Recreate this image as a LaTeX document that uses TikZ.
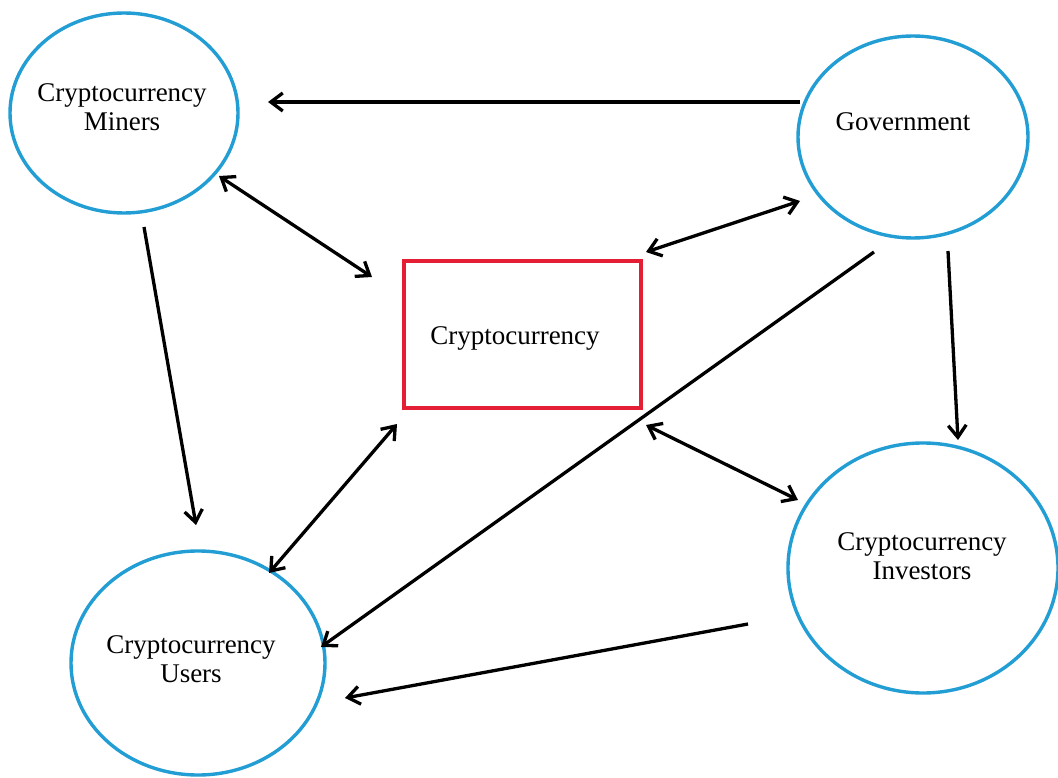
\documentclass[tikz,border=0pt]{standalone}
\usepackage{fontspec}
\setmainfont{Liberation Serif}
\usetikzlibrary{arrows.meta,shapes.geometric}
\definecolor{cblue}{RGB}{35,158,212}
\definecolor{cred}{RGB}{228,30,52}
\tikzset{
  actor/.style={ellipse,draw=cblue,line width=3.4pt,inner sep=0pt},
  core/.style={rectangle,draw=cred,line width=3.2pt,inner sep=0pt},
  lbl/.style={font=\fontsize{27}{29}\selectfont,align=center,inner sep=0pt},
  conn/.style={line width=3.3pt,black,arrows={-Straight Barb[length=12pt,width=18pt]}},
  bconn/.style={line width=3.3pt,black,arrows={Straight Barb[length=12pt,width=18pt]-Straight Barb[length=12pt,width=18pt]}}
}
\begin{document}
\begin{tikzpicture}[x=1pt,y=-1pt]
\useasboundingbox[fill=white] (0,0) rectangle (1058,778);
% nodes
\node[actor,minimum width=228pt,minimum height=200pt] (miners) at (124,113) {};
\node[actor,minimum width=230pt,minimum height=202pt] (gov) at (913,137) {};
\node[actor,minimum width=254pt,minimum height=224pt] (users) at (198,663) {};
\node[actor,minimum width=270pt,minimum height=250pt] (inv) at (923,568) {};
\node[core,minimum width=237pt,minimum height=147pt] (crypto) at (522.5,334.5) {};
% labels
\node[lbl] (minersT) at (122,107) {Cryptocurrency\\Miners};
\node[lbl] (govT) at (903,122) {Government};
\node[lbl] (usersT) at (191,659) {Cryptocurrency\\Users};
\node[lbl] (invT) at (922,556) {Cryptocurrency\\Investors};
\node[lbl] (cryptoT) at (515,338) {Cryptocurrency};
% connector end points
\coordinate (gM) at (800,102);  \coordinate (mG) at (268,102);
\coordinate (mC) at (219,176);  \coordinate (cM) at (372,277);
\coordinate (gC) at (800,201);  \coordinate (cG) at (646,252);
\coordinate (mU) at (144,227);  \coordinate (uM) at (196,525);
\coordinate (gI) at (948,251);  \coordinate (iG) at (958,440);
\coordinate (gU) at (874,252);  \coordinate (uG) at (321,647);
\coordinate (cU) at (397,424);  \coordinate (uC) at (269,573);
\coordinate (cI) at (646,425);  \coordinate (iC) at (798,500);
\coordinate (iU) at (748,624);  \coordinate (uI) at (345,698);
% connectors
\draw[conn] (gM) -- (mG);
\draw[bconn] (mC) -- (cM);
\draw[bconn] (gC) -- (cG);
\draw[conn] (mU) -- (uM);
\draw[conn] (gI) -- (iG);
\draw[conn] (gU) -- (uG);
\draw[bconn] (cU) -- (uC);
\draw[bconn] (cI) -- (iC);
\draw[conn] (iU) -- (uI);
\end{tikzpicture}
\end{document}
